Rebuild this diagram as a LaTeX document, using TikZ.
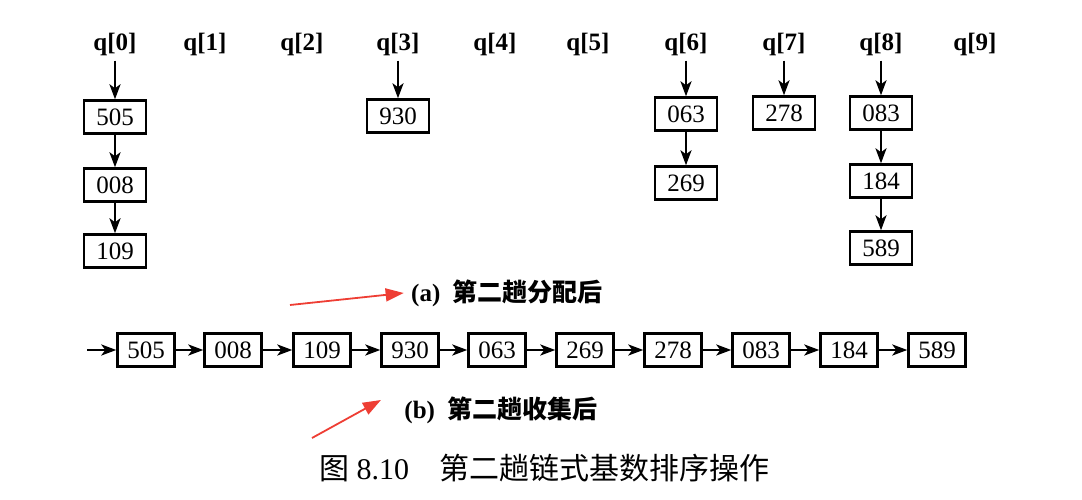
\documentclass[tikz,border=0pt]{standalone}
\usepackage{fontspec}
\setmainfont{Liberation Serif}
\newfontfamily\cjk{Noto Sans CJK SC}
\usetikzlibrary{arrows.meta}
\definecolor{annred}{RGB}{238,62,52}
\begin{document}
\begin{tikzpicture}[x=1pt,y=-1pt,
  rec/.style={draw,line width=2.4pt,minimum width=62pt,minimum height=33pt,inner sep=0pt,font=\fontsize{25}{25}\selectfont},
  recb/.style={rec,minimum width=57pt},
  qlbl/.style={font=\fontsize{25}{25}\selectfont\bfseries,inner sep=1pt},
  arr/.style={-{Stealth[length=15pt,width=11pt,inset=4pt]},line width=2.4pt},
  ann/.style={annred,line width=1.8pt,-{Triangle[length=18pt,width=13pt]}},
  captext/.style={font=\fontsize{25}{25}\selectfont\bfseries},
  ttl/.style={font=\fontsize{30}{30}\selectfont}
]
\useasboundingbox (0,0) rectangle (1082,500);
% q labels
\foreach \i/\x in {0/115,1/205,2/302,3/398,4/495,5/588,6/686,7/784,8/881,9/975}{
  \node[qlbl] (q\i) at (\x,44) {q[\i]};
}
% buckets
\node[rec] (a0) at (115,117) {505};
\node[rec] (a1) at (115,185) {008};
\node[rec] (a2) at (115,251) {109};
\node[rec] (d0) at (398,116) {930};
\node[rec] (g0) at (686,114) {063};
\node[rec] (g1) at (686,183) {269};
\node[rec] (h0) at (784,113) {278};
\node[rec] (i0) at (881,113) {083};
\node[rec] (i1) at (881,181) {184};
\node[rec] (i2) at (881,248) {589};
\draw[arr] (q0.south) ++(0,4) -- (a0.north);
\draw[arr] (a0) -- (a1);
\draw[arr] (a1) -- (a2);
\draw[arr] (q3.south) ++(0,4) -- (d0.north);
\draw[arr] (q6.south) ++(0,4) -- (g0.north);
\draw[arr] (g0) -- (g1);
\draw[arr] (q7.south) ++(0,4) -- (h0.north);
\draw[arr] (q8.south) ++(0,4) -- (i0.north);
\draw[arr] (i0) -- (i1);
\draw[arr] (i1) -- (i2);
% caption a
\node[captext] (capa) at (507,293) {(a)\enspace{\cjk 第二趟分配后}};
% collected list
\coordinate (start) at (87,350);
\foreach \v/\x [count=\k] in {505/146,008/233,109/322,930/410,063/497,269/585,278/673,083/761,184/849,589/937}{
  \node[recb] (c\k) at (\x,350) {\v};
}
\draw[arr] (start) -- (c1);
\foreach \k [evaluate=\k as \j using int(\k+1)] in {1,...,9}{
  \draw[arr] (c\k) -- (c\j);
}
\node[captext] (capb) at (501,410) {(b)\enspace{\cjk 第二趟收集后}};
\node[ttl] (title) at (544,468) {{\cjk 图} 8.10\quad {\cjk 第二趟链式基数排序操作}};
% red annotation arrows
\coordinate (ra) at (290,305);
\coordinate (rb) at (312,438);
\draw[ann] (ra) -- ([xshift=-4pt]capa.west);
\draw[ann] (rb) -- ([xshift=-20pt,yshift=10pt]capb.west);
\end{tikzpicture}
\end{document}
